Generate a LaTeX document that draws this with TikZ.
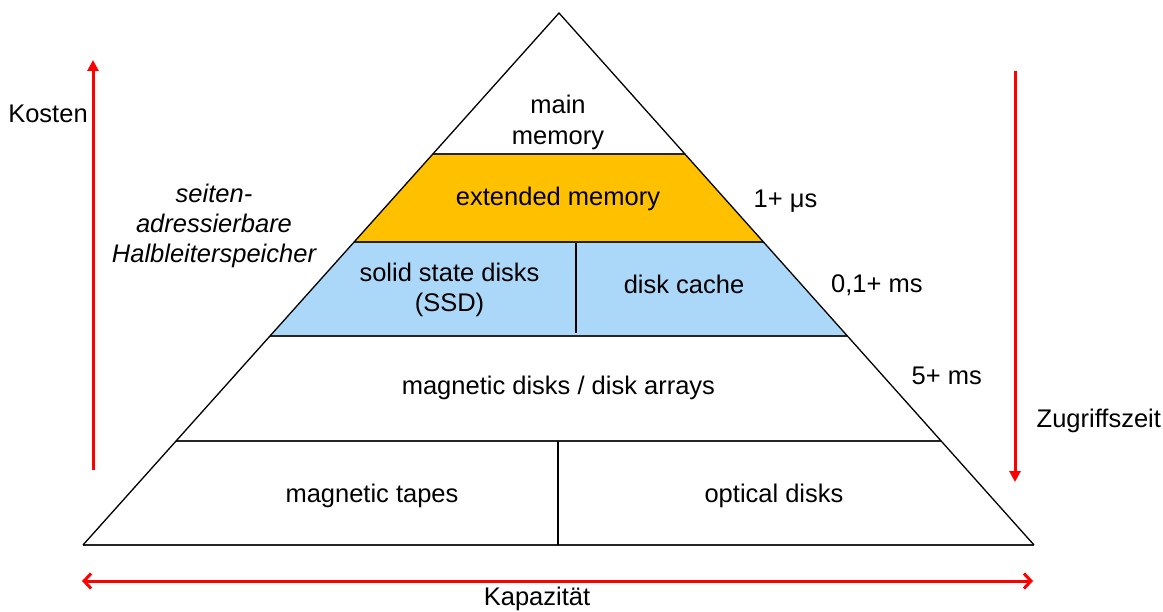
\documentclass[tikz,border=0pt]{standalone}
\usepackage{fontspec}
\setmainfont{Liberation Sans}
\usetikzlibrary{arrows.meta}
\definecolor{layerorange}{RGB}{255,192,0}
\definecolor{layerblue}{RGB}{171,216,249}
\definecolor{arrowred}{RGB}{255,0,0}
\begin{document}
\begin{tikzpicture}[x=1pt,y=-1pt,
  lbl/.style={inner sep=0pt,font=\fontsize{25.5}{30}\selectfont,anchor=base},
  lblw/.style={lbl,anchor=base west},
  ilbl/.style={lbl,font=\fontsize{25.5}{30}\selectfont\itshape},
  edge/.style={line width=1.3pt,black},
  layerline/.style={line width=1.8pt,black!85},
  redarrow/.style={line width=3pt,arrowred}
]
\useasboundingbox (0,0) rectangle (1163,612);
% corners
\coordinate (apex) at (559,13);
\coordinate (bl) at (83,545);
\coordinate (br) at (1034,545);
\coordinate (L1) at (432.8,154); \coordinate (R1) at (684.9,154);
\coordinate (L2) at (354.1,242); \coordinate (R2) at (763.5,242);
\coordinate (L3) at (270.0,336); \coordinate (R3) at (847.4,336);
\coordinate (L4) at (176.1,441); \coordinate (R4) at (941.2,441);
\coordinate (d2t) at (576,243); \coordinate (d2b) at (576,333);
\coordinate (d4t) at (558,441); \coordinate (d4b) at (558,545);
% fills
\fill[layerorange] (L1) -- (R1) -- (R2) -- (L2) -- cycle;
\fill[layerblue] (L2) -- (R2) -- (R3) -- (L3) -- cycle;
% layer lines
\draw[layerline] (L1) -- (R1);
\draw[layerline] (L2) -- (R2);
\draw[layerline] (L3) -- (R3);
\draw[layerline] (L4) -- (R4);
\draw[layerline] (bl) -- (br);
\draw[line width=1.8pt] (d2t) -- (d2b);
\draw[line width=1.8pt] (d4t) -- (d4b);
% triangle edges
\draw[edge,line join=miter] (bl) -- (apex) -- (br);
% texts in pyramid
\node[lbl] (main1) at (558,114) {main};
\node[lbl] (main2) at (558,145) {memory};
\node[lbl] (ext) at (558,206) {extended memory};
\node[lbl] (ssd1) at (449.5,282) {solid state disks};
\node[lbl] (ssd2) at (449.5,312) {(SSD)};
\node[lbl] (cache) at (684,294) {disk cache};
\node[lbl] (magd) at (558.4,394.5) {magnetic disks / disk arrays};
\node[lbl] (tapes) at (372,502) {magnetic tapes};
\node[lbl] (optic) at (774,502) {optical disks};
% access times
\node[lblw] (t1) at (753.5,207.5) {1+ μs};
\node[lblw] (t2) at (831,292.5) {0,1+ ms};
\node[lblw] (t3) at (911.5,384.5) {5+ ms};
% side labels
\node[lbl] (kosten) at (48,122.5) {Kosten};
\node[lblw] (zugriff) at (1036.5,428) {Zugriffszeit};
\node[lbl] (kapaz) at (537,605) {Kapazität};
\node[ilbl] (semi1) at (214,202.5) {seiten-};
\node[ilbl] (semi2) at (214,233) {adressierbare};
\node[ilbl] (semi3) at (214,262.5) {Halbleiterspeicher};
% arrows
\coordinate (kb) at (93,470); \coordinate (kt) at (93,60);
\coordinate (zt) at (1015,71); \coordinate (zb) at (1015,482);
\coordinate (cl) at (82,581); \coordinate (cr) at (1033,581);
\draw[redarrow,-{Triangle[length=11pt,width=11pt]}] (kb) -- (kt);
\draw[redarrow,-{Triangle[length=11pt,width=11pt]}] (zt) -- (zb);
\draw[redarrow,{Straight Barb[length=7pt,width=15pt]}-{Straight Barb[length=7pt,width=15pt]}] (cl) -- (cr);
\end{tikzpicture}
\end{document}
